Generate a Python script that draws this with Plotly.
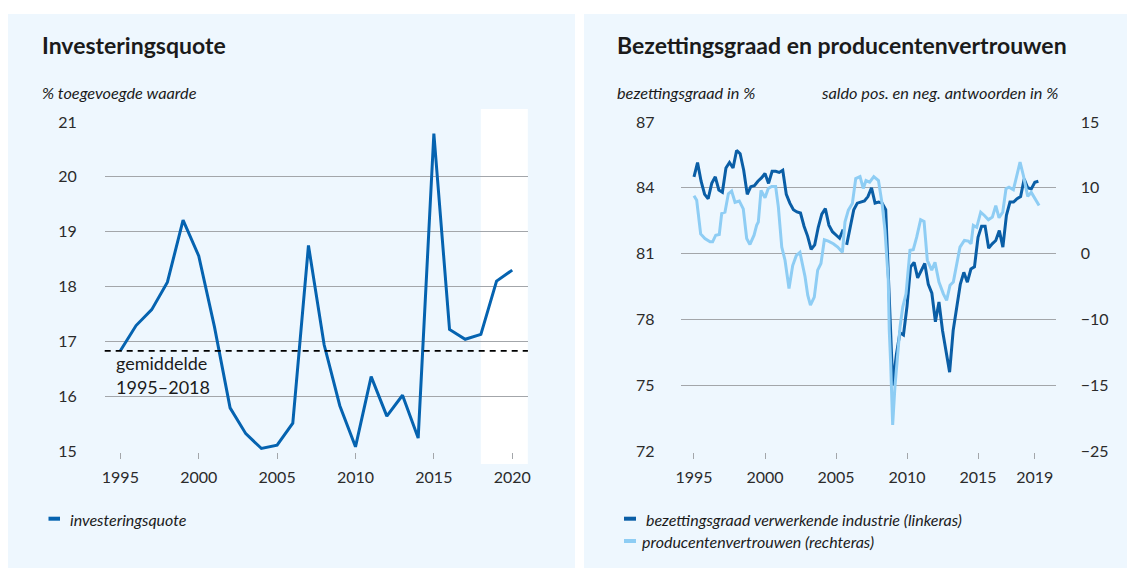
import plotly.graph_objects as go

# ---------------- data ----------------
inv_years = list(range(1995, 2021))
inv_values = [16.83, 17.29, 17.58, 18.08, 19.21, 18.56, 17.27, 15.79, 15.32, 15.05,
              15.11, 15.51, 18.75, 16.94, 15.83, 15.08, 16.36, 15.64, 16.02, 15.24,
              20.79, 17.22, 17.04, 17.13, 18.10, 18.30]
inv_average = 16.83
inv_forecast_from = 2018
inv_xticks = [1995, 2000, 2005, 2010, 2015, 2020]
inv_yticks = [15, 16, 17, 18, 19, 20, 21]

# bezettingsgraad, quarterly from 1995Q1
bez_start = 1995
bez_values = [84.5, 85.15, 84.3, 83.7,
              83.5, 84.2, 84.5, 83.9,
              83.8, 84.9, 85.15, 84.9,
              85.7, 85.55, 84.8, 83.7,
              84.05, 84.1, 84.3, 84.45,
              84.65, 84.2, 84.75, 84.75,
              84.7, 84.8, 83.7, 83.3,
              83.0, 82.9, 82.85, 82.25,
              81.8, 81.2, 81.4, 82.2,
              82.8, 83.05, 82.3, 82.0,
              81.85, 81.7, 82.1, 81.4,
              82.2, 83.0, 83.3, 83.35,
              83.4, 83.6, 84.0, 83.3,
              83.35, 83.3, 83.0, 79.0,
              75.0, 76.4, 77.4, 77.3,
              78.6, 80.4, 80.6, 79.9,
              80.2, 80.55, 79.6, 79.2,
              77.9, 78.8, 77.5, 76.6,
              75.6, 77.5, 78.6, 79.6,
              80.15, 79.7, 80.3, 80.4,
              81.75, 82.25, 82.25, 81.25,
              81.45, 81.6, 82.05, 81.3,
              82.75, 83.35, 83.35, 83.5,
              83.6, 84.4, 84.0, 83.95,
              84.25, 84.3]
bez_break_after = "2005Q3"   # series break in the line

# producentenvertrouwen (values on the right-axis scale)
pv_time = [1995.0, 1995.19, 1995.3, 1995.47, 1995.77, 1996.13, 1996.31, 1996.53, 1996.78, 1996.95,
           1997.18, 1997.42, 1997.65, 1997.89, 1998.19, 1998.47, 1998.71, 1998.94, 1999.23, 1999.41,
           1999.53, 1999.72, 2000.0, 2000.23, 2000.47, 2000.75, 2000.94, 2001.18, 2001.41, 2001.69,
           2001.95, 2002.2, 2002.46, 2002.65, 2002.82, 2003.01, 2003.2, 2003.47, 2003.71, 2003.94,
           2004.18, 2004.46, 2004.81, 2005.12, 2005.45, 2005.63, 2005.87, 2006.15, 2006.39, 2006.69,
           2006.92, 2007.11, 2007.37, 2007.66, 2007.99, 2008.25, 2008.45, 2008.68, 2008.75, 2008.85,
           2008.99, 2009.15, 2009.32, 2009.51, 2009.7, 2009.93, 2010.21, 2010.44, 2010.68, 2010.96,
           2011.2, 2011.43, 2011.74, 2011.97, 2012.25, 2012.56, 2012.79, 2013.03, 2013.26, 2013.5,
           2013.73, 2014.04, 2014.32, 2014.51, 2014.67, 2014.91, 2015.19, 2015.45, 2015.73, 2016.01,
           2016.25, 2016.48, 2016.74, 2016.97, 2017.18, 2017.49, 2017.73, 2017.96, 2018.19, 2018.5,
           2018.75, 2019.3]
pv_values = [8.8, 8.1, 6.1, 3.0, 2.3, 1.8, 1.8, 2.8, 2.9, 6.1,
             6.3, 9.1, 9.5, 7.8, 8.0, 6.8, 2.3, 1.4, 2.8, 4.3,
             4.8, 9.6, 8.5, 9.9, 10.2, 10.2, 7.1, 1.0, -1.0, -5.3,
             -1.8, -0.3, 0.2, -1.5, -3.5, -6.3, -7.8, -6.6, -2.5, -1.5,
             2.1, 1.9, 1.5, 1.0, 0.2, 4.8, 6.6, 7.6, 11.4, 11.7,
             9.9, 11.1, 10.85, 11.7, 11.1, 7.5, 3.5, -4.0, -11.6, -16.7,
             -26.0, -20.2, -15.2, -11.1, -8.1, -6.1, 0.5, 0.6, 2.5, 5.15,
             4.9, -1.0, -2.5, -1.3, -4.3, -6.1, -7.1, -4.8, -4.3, -1.5,
             1.0, 2.0, 1.9, 1.5, 4.3, 4.0, 6.3, 5.8, 5.15, 5.55,
             7.3, 5.45, 6.3, 9.85, 10.1, 9.7, 12.1, 13.9, 11.9, 8.7,
             9.3, 7.3]

bez_xticks = [1995, 2000, 2005, 2010, 2015, 2019]
bez_yticks = [72, 75, 78, 81, 84, 87]
pv_tickvals = [-30, -20, -10, 0, 10, 20]
pv_ticktext = ["\u221225", "\u221215", "\u221210", "0", "10", "15"]

# ---------------- styling ----------------
W, H = 1135, 572
FONT = "Lato"
TXT = "#1b1b1b"
TICK = "#2b2b2b"
GRID = "#a3a6aa"
PANEL = "#eef7fe"
C_INV = "#0563b0"
C_BEZ = "#0a5ea6"
C_PV = "#8ecdf4"

# the page places the figure 8px from the top-left corner
OFF = 8


def px(x):
    return (x - OFF) / W


def py(y):
    return 1 - (y - OFF) / H


# build quarterly x with break
bez_x, bez_y = [], []
for i, v in enumerate(bez_values):
    yr = bez_start + i // 4
    q = i % 4 + 1
    bez_x.append(yr + (q - 1) / 4)
    bez_y.append(v)
    if f"{yr}Q{q}" == bez_break_after:
        bez_x.append(None)
        bez_y.append(None)

fig = go.Figure()
fig.add_trace(go.Scatter(x=inv_years, y=inv_values, mode="lines", xaxis="x", yaxis="y",
                         line=dict(color=C_INV, width=3), name="investeringsquote",
                         showlegend=False))
fig.add_trace(go.Scatter(x=bez_x, y=bez_y, mode="lines", xaxis="x2", yaxis="y2",
                         line=dict(color=C_BEZ, width=3), connectgaps=False,
                         name="bezettingsgraad verwerkende industrie (linkeras)", showlegend=False))
fig.add_trace(go.Scatter(x=pv_time, y=pv_values, mode="lines", xaxis="x2", yaxis="y3",
                         line=dict(color=C_PV, width=3),
                         name="producentenvertrouwen (rechteras)", showlegend=False))

shapes = [
    dict(type="rect", xref="paper", yref="paper", x0=px(7), x1=px(575), y0=py(568), y1=py(14),
         fillcolor=PANEL, line_width=0, layer="below"),
    dict(type="rect", xref="paper", yref="paper", x0=px(584), x1=px(1129), y0=py(568), y1=py(14),
         fillcolor=PANEL, line_width=0, layer="below"),
    dict(type="rect", xref="x", yref="paper", x0=inv_forecast_from, x1=2021, y0=py(464), y1=py(109),
         fillcolor="white", line_width=0, layer="below"),
    dict(type="line", xref="x domain", yref="y", x0=0, x1=1, y0=inv_average, y1=inv_average,
         line=dict(color="black", width=1.8, dash="6px,5px"), layer="above"),
    # legend keys
    dict(type="line", xref="paper", yref="paper", x0=px(48.5), x1=px(60), y0=py(518.7), y1=py(518.7),
         line=dict(color=C_INV, width=4)),
    dict(type="line", xref="paper", yref="paper", x0=px(624), x1=px(636), y0=py(518.7), y1=py(518.7),
         line=dict(color=C_BEZ, width=4)),
    dict(type="line", xref="paper", yref="paper", x0=px(624), x1=px(636), y0=py(541), y1=py(541),
         line=dict(color=C_PV, width=4)),
]


def ann(x, y, text, size, italic=False, bold=False, xanchor="left", color=TXT):
    t = text
    if bold:
        t = f"<b>{t}</b>"
    if italic:
        t = f"<i>{t}</i>"
    return dict(xref="paper", yref="paper", x=px(x), y=py(y), text=t, showarrow=False,
                xanchor=xanchor, yanchor="middle", font=dict(family=FONT, size=size, color=color))


annotations = [
    ann(39.5, 45, "Investeringsquote", 23, bold=True),
    ann(39.5, 92, "% toegevoegde waarde", 16.3, italic=True),
    ann(615, 45, "Bezettingsgraad en producentenvertrouwen", 23, bold=True),
    ann(615, 92, "bezettingsgraad in %", 16.3, italic=True),
    ann(1060, 92, "saldo pos. en neg. antwoorden in %", 16.3, italic=True, xanchor="right"),
    ann(113.5, 363, "gemiddelde", 18),
    ann(113.5, 387, "1995\u20132018", 18),
    ann(68, 519, "investeringsquote", 16, italic=True),
    ann(643.5, 519, "bezettingsgraad verwerkende industrie (linkeras)", 16, italic=True),
    ann(640, 541, "producentenvertrouwen (rechteras)", 16, italic=True),
]

ydom = [py(451.5), py(121.7)]
tickfont = dict(family=FONT, size=16, color=TICK)

fig.update_layout(
    template="none",
    width=W, height=H, margin=dict(l=0, r=0, t=0, b=0, pad=0), autosize=False,
    paper_bgcolor="white", plot_bgcolor="rgba(0,0,0,0)",
    showlegend=False, shapes=shapes, annotations=annotations,
    xaxis=dict(domain=[px(104.7), px(527.9)], range=[1994, 2021], anchor="y", automargin=False,
               tickvals=inv_xticks, ticks="outside", ticklen=6, tickwidth=1.3, tickcolor=GRID,
               showgrid=False, zeroline=False, showline=False, tickfont=tickfont,
               ticklabelstandoff=5),
    yaxis=dict(domain=ydom, range=[14.995, 21.005], anchor="x", tickvals=inv_yticks, automargin=False,
               showgrid=True, gridcolor=GRID, gridwidth=1.3, zeroline=False, showline=False,
               ticks="", tickfont=tickfont, ticklabelstandoff=27),
    xaxis2=dict(domain=[px(680.5), px(1055.7)], range=[1994.05, 2020.47], anchor="y2",
                automargin=False,
                tickvals=bez_xticks, ticks="outside", ticklen=6, tickwidth=1.3, tickcolor=GRID,
                showgrid=False, zeroline=False, showline=False, tickfont=tickfont,
                ticklabelstandoff=5),
    yaxis2=dict(domain=ydom, range=[71.99, 87.01], anchor="x2", tickvals=bez_yticks,
                automargin=False,
                showgrid=True, gridcolor=GRID, gridwidth=1.3, zeroline=False, showline=False,
                ticks="", tickfont=tickfont, ticklabelstandoff=25),
    yaxis3=dict(range=[-30.03, 20.03], overlaying="y2", anchor="x2", side="right", automargin=False,
                tickvals=pv_tickvals, ticktext=pv_ticktext, showgrid=False, zeroline=False,
                showline=False, ticks="", tickfont=tickfont, ticklabelstandoff=24),
)

fig.write_html("out.html")
